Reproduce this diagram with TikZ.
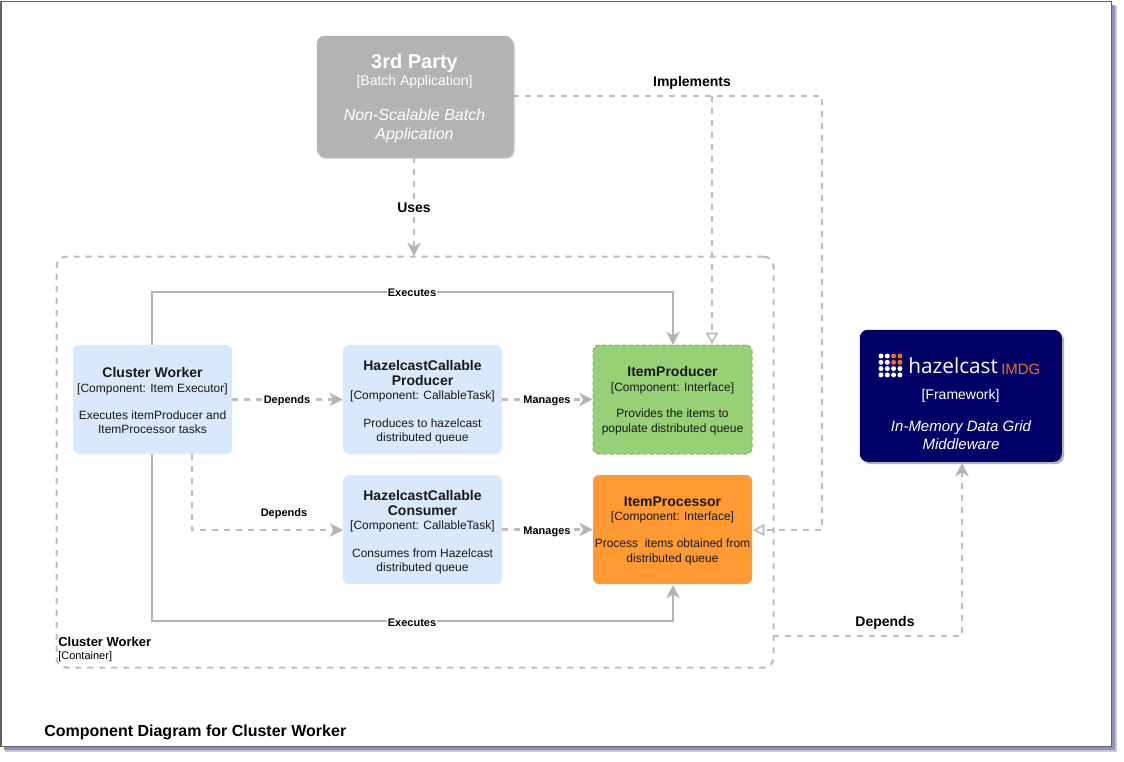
\documentclass[tikz,border=0pt]{standalone}
\usepackage{fontspec}
\setmainfont{Liberation Sans}
\newfontfamily\logofont{Open Sans}
\usetikzlibrary{arrows.meta,calc}
\newcommand{\ttl}[1]{{\fontsize{10.5}{12}\selectfont\bfseries #1}}
\definecolor{edge}{HTML}{B3B3B3}
\definecolor{dashc}{HTML}{BDBDBD}
\definecolor{blue1}{HTML}{DAE8FC}
\definecolor{green1}{HTML}{97D077}
\definecolor{green2}{HTML}{82B366}
\definecolor{orange1}{HTML}{FF9933}
\definecolor{navy1}{HTML}{000066}
\definecolor{logoorange}{HTML}{F26B21}
\tikzset{
  x=0.75pt,y=-0.75pt,
  comp/.style={rounded corners=4.5pt,minimum width=119.25pt,minimum height=81.75pt,inner sep=0pt,anchor=center},
  ctext/.style={inner sep=0pt,align=center,text=black!90,anchor=center,font=\fontsize{9}{10.8}\selectfont},
  bluebox/.style={comp,fill=blue1},
  link/.style={draw=edge,line width=1.6pt,rounded corners=0pt},
  dashlink/.style={link,draw=dashc,dash pattern=on 4.5pt off 4.5pt},
  arrowfill/.style={-{Stealth[length=10pt,width=10pt,inset=3pt,fill=edge,color=edge]}},
  arrowopen/.style={-{Triangle[open,length=8.5pt,width=9pt,fill=white,line width=1.2pt]}},
  lab/.style={fill=white,inner sep=0.6pt,font=\fontsize{8.25}{10}\selectfont\bfseries,text=black},
  biglab/.style={inner sep=1pt,font=\fontsize{10.5}{12}\selectfont\bfseries,text=black},
}
\begin{document}
\begin{tikzpicture}
\useasboundingbox (0,0) rectangle (1124,761);
% page frame
\fill[white] (0,0) rectangle (1124,761);
\fill[color=black!10!blue!25!gray!35] (5,6) rectangle (1117,752);
\fill[color=black!10!blue!25!gray!70] (4,5) rectangle (1114.5,749.5);
\node[draw=black!62,line width=1.2pt,fill=white,minimum width=832.5pt,minimum height=558.75pt,inner sep=0pt,anchor=north west] (page) at (0.5,0.5) {};
% container
\node[draw=dashc,line width=1.6pt,dash pattern=on 4.5pt off 4.5pt,rounded corners=7.5pt,minimum width=537.75pt,minimum height=308.25pt,inner sep=0pt,anchor=north west] (container) at (55.5,255.5) {};
% third party
\fill[color=black!25,rounded corners=6pt] (318,38) rectangle (514.5,158.5);
\node[fill=edge,rounded corners=6pt,minimum width=147pt,minimum height=90.75pt,inner sep=0pt,anchor=north west] (third) at (316.5,35.5) {};
\node[inner sep=0pt,align=center,text=white,font=\fontsize{12}{14.25}\selectfont] (thirdt) at (414.5,98) {{\fontsize{15}{18}\selectfont\bfseries 3rd Party}\\[-1.25pt]{\fontsize{10.5}{12}\selectfont [Batch Application]}\\[11.75pt]\itshape Non-Scalable Batch\\\itshape Application};
% hazelcast
\fill[color=black!30,rounded corners=6pt] (862,332) rectangle (1064,464);
\node[fill=navy1,rounded corners=6pt,minimum width=151.5pt,minimum height=99pt,inner sep=0pt,anchor=north west] (hazel) at (859.5,329.5) {};
\foreach \i in {0,...,3}{\foreach \j in {0,...,3}{
  \pgfmathsetmacro{\dotcol}{(\i>=2 && \j<=1) ? 1 : 0}
  \ifdim\dotcol pt>0.5pt\relax
    \fill[logoorange] ({881+\i*6.3},{356+\j*6.3}) circle (2.5);
  \else
    \fill[white] ({881+\i*6.3},{356+\j*6.3}) circle (2.5);
  \fi
}}
\node[inner sep=0pt,text=white,anchor=base west] (logoa) at (908,373.5) {\logofont\fontsize{15.6}{18}\selectfont hazelcast};
\node[inner sep=0pt,text=logoorange,anchor=base west] (logob) at (1001,374) {\fontsize{11.2}{14}\selectfont IMDG};
\node[inner sep=0pt,text=white,anchor=base] (fw) at (960.5,399) {\fontsize{10.5}{12}\selectfont [Framework]};
\node[inner sep=0pt,text=white,align=center,anchor=north,font=\fontsize{11.25}{13.5}\selectfont\itshape] (hdesc) at (961,420.5) {In-Memory Data Grid\\Middleware};
% component boxes
\node[bluebox] (worker) at (152.5,399.5) {};
\node[ctext] (workert) at (152.5,400.5) {\ttl{Cluster Worker}\\[0.25pt][Component: Item Executor]\\[9.25pt]Executes itemProducer and\\ItemProcessor tasks};
\node[bluebox] (hcp) at (422.5,399.5) {};
\node[ctext] (hcpt) at (422.5,402.5) {\ttl{HazelcastCallable}\\[0.25pt]\ttl{Producer}\\[-0.5pt][Component: CallableTask]\\[10.25pt]Produces to hazelcast\\distributed queue};
\node[bluebox] (hcc) at (422.5,529.5) {};
\node[ctext] (hcct) at (422.5,532.5) {\ttl{HazelcastCallable}\\[0.25pt]\ttl{Consumer}\\[-0.5pt][Component: CallableTask]\\[10.25pt]Consumes from Hazelcast\\distributed queue};
\node[comp,fill=green1,draw=green2,line width=0.75pt,densely dashed] (prod) at (672.5,399.5) {};
\node[ctext] (prodt) at (672.5,400.5) {\ttl{ItemProducer}\\[0.25pt][Component: Interface]\\[9.25pt]Provides the items to\\populate distributed queue};
\node[comp,fill=orange1] (proc) at (672.5,529.5) {};
\node[ctext] (proct) at (672.5,530.5) {\ttl{ItemProcessor}\\[0.25pt][Component: Interface]\\[9.25pt]Process\ \ items obtained from\\distributed queue};
% helper coordinates
\coordinate (c1) at (822,96);
\coordinate (c2) at (822,530);
\coordinate (c3) at (712,96);
\coordinate (c4) at (712,344);
\coordinate (c5) at (753,530);
\coordinate (wtop) at (152,345);
\coordinate (wbot) at (152,454);
\coordinate (w2) at (192,454);
\coordinate (ctr) at (773,636);
\coordinate (hz) at (962,463);
% connectors
\draw[dashlink,arrowopen] (third.east |- c1) -- (c1) -- (c2) -- (c5);
\draw[dashlink,arrowopen] (c3) -- (c4);
\draw[dashlink,arrowfill] (414,157) -- (414,256);
\draw[link,arrowfill] (wtop) -- (152,292) -- (673,292) -- (673,345);
\draw[link,arrowfill] (wbot) -- (152,621) -- (673,621) -- (673,585);
\draw[dashlink,arrowfill] (worker.east) -- (hcp.west);
\draw[dashlink,arrowfill] (w2) -- (192,530) -- (343,530);
\draw[dashlink,arrowfill] (hcp.east) -- (prod.west);
\draw[dashlink,arrowfill] (hcc.east) -- (proc.west);
\draw[dashlink,arrowfill] (ctr) -- (962,636) -- (hz);
% labels
\node[lab] (l1) at (412,293) {Executes};
\node[lab] (l2) at (412,623) {Executes};
\node[lab] (l3) at (287,401) {Depends};
\node[lab,fill=none] (l4) at (284,513.5) {Depends};
\node[lab] (l5) at (547,401) {Manages};
\node[lab] (l6) at (547,531.5) {Manages};
\node[biglab] (l7) at (692,83) {Implements};
\node[biglab,fill=white,inner sep=2pt] (l8) at (414,208) {Uses};
\node[biglab] (l9) at (885,623) {Depends};
\node[inner sep=0pt,anchor=west,font=\fontsize{9.75}{12}\selectfont\bfseries] (cw) at (58,642) {Cluster Worker};
\node[inner sep=0pt,anchor=west,font=\fontsize{8.25}{10}\selectfont] (cws) at (58,656.5) {[Container]};
\node[inner sep=0pt,anchor=west,font=\fontsize{12}{14}\selectfont\bfseries] (title) at (44,732.5) {Component Diagram for Cluster Worker};
\end{tikzpicture}
\end{document}
